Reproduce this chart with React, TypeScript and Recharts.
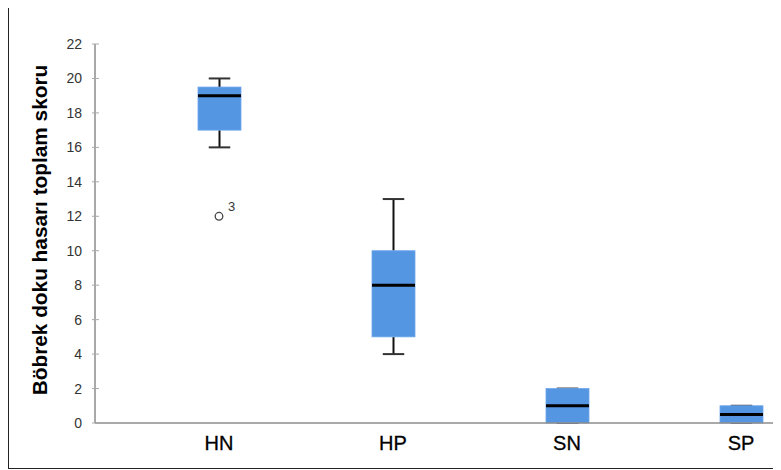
import { ComposedChart, Bar, Scatter, XAxis, YAxis, Label } from 'recharts'

const groups = ['HN', 'HP', 'SN', 'SP']
const whiskerLow = [16, 4, 0, 0]
const quartile1 = [17, 5, 0, 0]
const medians = [19, 8, 1, 0.5]
const quartile3 = [19.5, 10, 2, 1]
const whiskerHigh = [20, 13, 2, 1]
const outliers: (number | null)[] = [12, null, null, null]
const outlierCases = ['3', '', '', '']
const yTicks = [0, 2, 4, 6, 8, 10, 12, 14, 16, 18, 20, 22]

const yLabel = 'Böbrek doku hasarı toplam skoru'
const font = '"Liberation Sans", Arial, sans-serif'
const boxBlue = '#5596e3'
const axisGrey = '#8c8c8c'

const data = groups.map((g, i) => ({
  group: g,
  span: [whiskerLow[i], whiskerHigh[i]],
  low: whiskerLow[i],
  q1: quartile1[i],
  median: medians[i],
  q3: quartile3[i],
  high: whiskerHigh[i],
  outlier: outliers[i],
  outlierCase: outlierCases[i],
}))

// the bar spans low..high, so its y/height give the axis mapping for the other stats
function BoxShape(props: any) {
  const { x, y, width, height, payload } = props
  if (payload == null) return <g />
  const { low, high, q1, q3, median } = payload
  const toPx = (v: number) => (high === low ? y : y + (height * (high - v)) / (high - low))
  const cx = x + width / 2
  const cap = width / 4
  return (
    <g>
      <line x1={cx} x2={cx} y1={toPx(high)} y2={toPx(q3)} stroke="#111" strokeWidth={2} />
      <line x1={cx} x2={cx} y1={toPx(q1)} y2={toPx(low)} stroke="#111" strokeWidth={2} />
      <line x1={cx - cap} x2={cx + cap} y1={toPx(high)} y2={toPx(high)} stroke="#333" strokeWidth={2} />
      <line x1={cx - cap} x2={cx + cap} y1={toPx(low)} y2={toPx(low)} stroke="#333" strokeWidth={2} />
      <rect x={x} y={toPx(q3)} width={width} height={toPx(q1) - toPx(q3)} fill={boxBlue} stroke="#6ea6ea" strokeWidth={0.8} />
      <line x1={x} x2={x + width} y1={toPx(median)} y2={toPx(median)} stroke="#000" strokeWidth={3} />
    </g>
  )
}

function OutlierShape(props: any) {
  const { cx, cy, payload } = props
  if (payload == null || payload.outlier == null) return <g />
  return (
    <g>
      <circle cx={cx} cy={cy} r={3.8} fill="#fff" stroke="#444" strokeWidth={1.3} />
      <text x={cx + 9} y={cy - 5} fontSize={13} fontFamily={font} fill="#333">
        {payload.outlierCase}
      </text>
    </g>
  )
}

function YTick(props: any) {
  const { x, y, payload } = props
  return (
    <g>
      <line x1={x + 10} x2={x + 17} y1={y} y2={y} stroke="#aaa" strokeWidth={1} />
      <text x={x} y={y} dy="0.36em" textAnchor="end" fontSize={14} fontFamily={font} fill="#333">
        {payload.value}
      </text>
    </g>
  )
}

function XTick(props: any) {
  const { x, y, payload } = props
  return (
    <text x={x} y={y} dy="0.71em" textAnchor="middle" fontSize={20} fontFamily={font} fill="#000" stroke="#000" strokeWidth={0.3}>
      {payload.value}
    </text>
  )
}

export default function App() {
  return (
    <div
      style={{
        position: 'relative',
        width: 781,
        height: 470,
        margin: '-8px 0 0 -8px',
        overflow: 'hidden',
        background: '#fff',
      }}
    >
      <div
        style={{
          position: 'absolute',
          left: 8,
          top: 4,
          width: 820,
          height: 465,
          border: '1px solid #222',
          boxSizing: 'border-box',
        }}
      />
      <div style={{ position: 'absolute', left: 0, top: 0 }}>
        <ComposedChart width={840} height={470} data={data} margin={{ top: 44, right: 12, bottom: 7, left: 0 }}>
          <XAxis
            dataKey="group"
            type="category"
            padding={{ left: 37, right: 0 }}
            height={40}
            axisLine={{ stroke: axisGrey, strokeWidth: 1.5 }}
            tickLine={false}
            tickSize={0}
            tickMargin={13}
            tick={<XTick />}
          />
          <YAxis
            domain={[0, 22]}
            ticks={yTicks}
            width={95}
            interval={0}
            axisLine={{ stroke: axisGrey, strokeWidth: 1.5 }}
            tickLine={false}
            tickSize={0}
            tickMargin={13}
            tick={<YTick />}
          >
            <Label
              content={(p: any) => {
                const vb = p.viewBox || { x: 0, y: 44, width: 95, height: 379 }
                const lx = vb.x + 46.5
                const ly = vb.y + vb.height / 2 - 3.5
                return (
                  <text
                    x={lx}
                    y={ly}
                    transform={`rotate(-90 ${lx} ${ly})`}
                    textAnchor="middle"
                    fontSize={20.8}
                    fontWeight="bold"
                    fontFamily={font}
                    fill="#000"
                  >
                    {yLabel}
                  </text>
                )
              }}
            />
          </YAxis>
          <Bar dataKey="span" barSize={43} shape={<BoxShape />} isAnimationActive={false} />
          <Scatter dataKey="outlier" shape={<OutlierShape />} isAnimationActive={false} />
        </ComposedChart>
      </div>
    </div>
  )
}
